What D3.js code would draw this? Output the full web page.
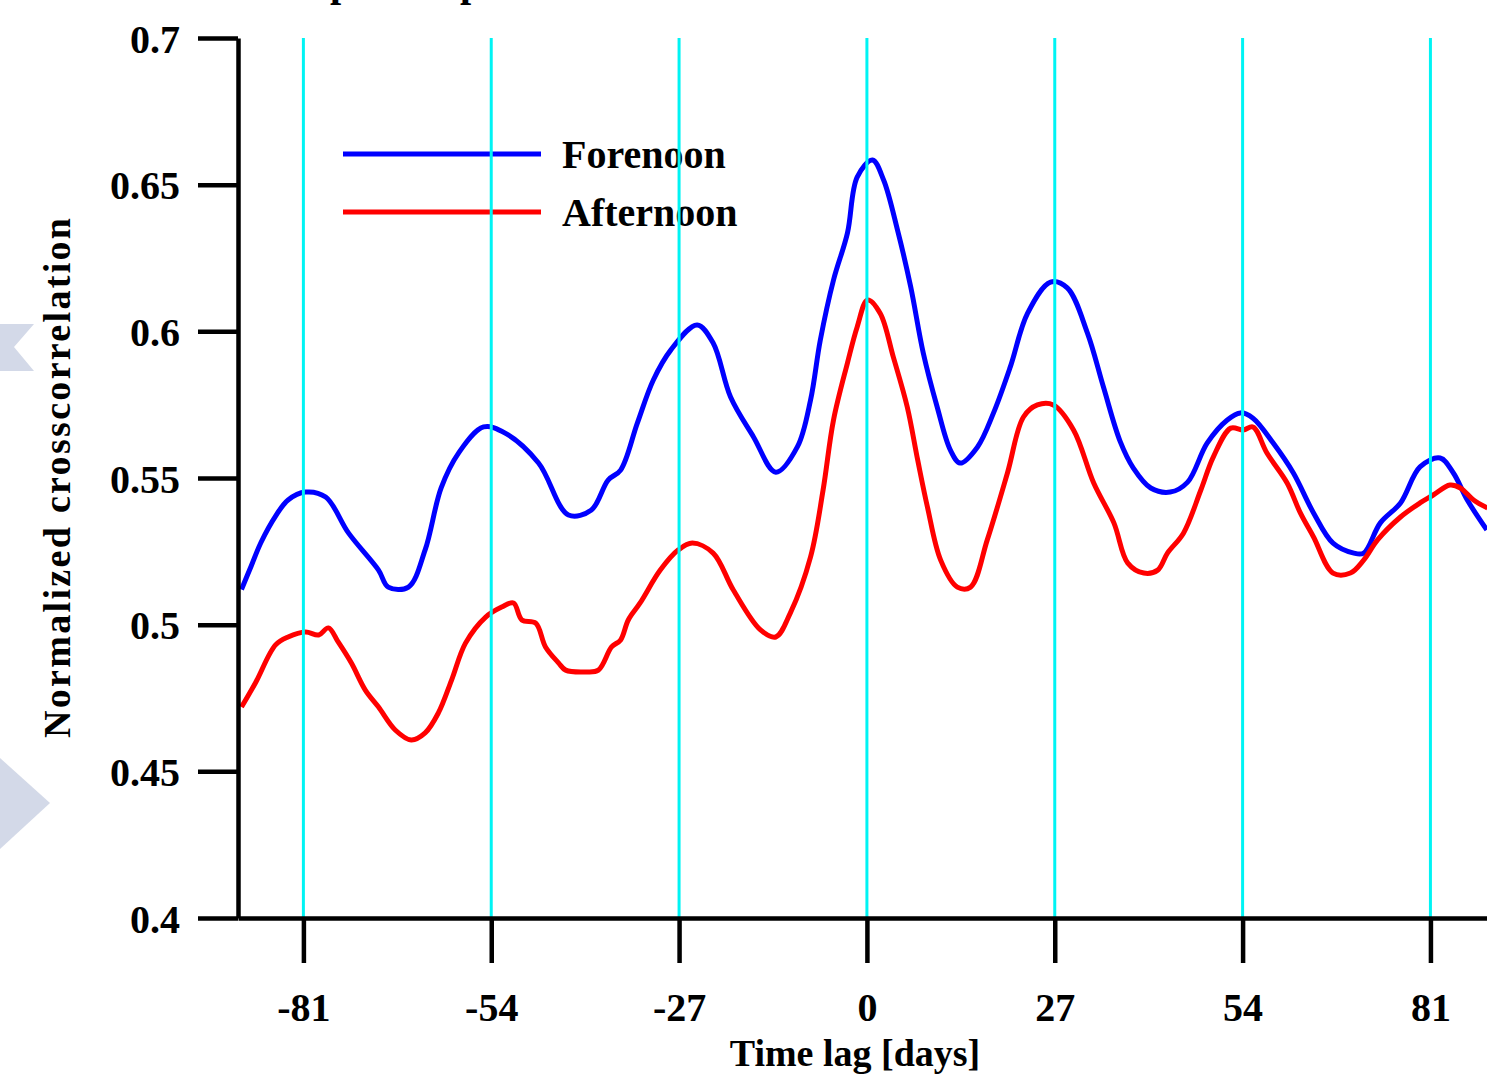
<!DOCTYPE html>
<html>
<head>
<meta charset="utf-8">
<script src="https://d3js.org/d3.v7.min.js"></script>
<style>
  body { margin: 0; background: #fff; }
  svg { display: block; }
</style>
</head>
<body>
<svg id="vis" width="1487" height="1074"></svg>

<script>
    // tick values
    var xTicks = [-81, -54, -27, 0, 27, 54, 81]
    var xTickLabels = ["-81", "-54", "-27", "0", "27", "54", "81"]
    var yTicks = [0.4, 0.45, 0.5, 0.55, 0.6, 0.65, 0.7]
    var yTickLabels = ["0.4", "0.45", "0.5", "0.55", "0.6", "0.65", "0.7"]

    var seriesNames = ["Forenoon", "Afternoon"]

    // Forenoon: [lag in days, normalized crosscorrelation]
    var forenoon = [
        [-89.9, 0.512], [-88.5, 0.520], [-87.1, 0.528], [-85.0, 0.537], [-83.2, 0.5425],
        [-80.7, 0.5452], [-77.8, 0.5435], [-74.5, 0.5312], [-70.2, 0.5186], [-68.8, 0.5128],
        [-65.9, 0.5128], [-63.5, 0.5255], [-61.2, 0.5466], [-58.7, 0.5585], [-55.1, 0.5674],
        [-52.0, 0.5653], [-47.2, 0.5551], [-42.9, 0.5374], [-39.6, 0.5391], [-37.2, 0.5493],
        [-35.4, 0.5527], [-33.0, 0.5687], [-30.7, 0.5834], [-28.2, 0.5936], [-24.4, 0.6022],
        [-22.1, 0.596], [-19.6, 0.5776], [-16.3, 0.564], [-13.1, 0.552], [-10.0, 0.5606],
        [-8.1, 0.5766], [-6.7, 0.597], [-4.8, 0.6175], [-2.8, 0.6335], [-1.4, 0.6526],
        [0.8, 0.6584], [2.4, 0.6516], [4.4, 0.6345], [6.3, 0.6151], [8.1, 0.5926],
        [10.1, 0.5742], [12.0, 0.5595], [13.4, 0.5551], [15.9, 0.5606], [18.2, 0.5722],
        [20.6, 0.5878], [23.1, 0.6062], [26.4, 0.6168], [28.8, 0.6148], [31.7, 0.5994],
        [34.0, 0.581], [36.4, 0.5625], [38.3, 0.5534], [40.8, 0.5466], [43.6, 0.5452],
        [46.1, 0.5486], [48.9, 0.5619], [51.8, 0.5698], [53.7, 0.5722], [55.5, 0.5704],
        [58.4, 0.5619], [61.3, 0.5517], [64.2, 0.5381], [67.0, 0.5278], [70.0, 0.5244],
        [71.4, 0.5244], [73.8, 0.5347], [76.7, 0.5415], [79.5, 0.5538], [82.4, 0.5568],
        [84.3, 0.5517], [86.3, 0.5425], [89.1, 0.5323]
    ]

    // Afternoon
    var afternoon = [
        [-89.9, 0.4719], [-87.9, 0.4801], [-85.0, 0.4931], [-83.2, 0.4958], [-80.7, 0.4975],
        [-78.8, 0.4965], [-77.4, 0.4989], [-76.0, 0.4941], [-74.1, 0.4869], [-72.1, 0.4777],
        [-70.2, 0.4719], [-67.8, 0.4641], [-65.5, 0.4607], [-63.5, 0.4631], [-61.6, 0.4699],
        [-59.7, 0.4811], [-57.7, 0.4937], [-54.8, 0.5026], [-52.5, 0.506], [-50.8, 0.5074],
        [-49.6, 0.5016], [-47.6, 0.5005], [-46.2, 0.4924], [-44.3, 0.4869], [-43.3, 0.4845],
        [-40.5, 0.4839], [-38.6, 0.4845], [-36.7, 0.4924], [-35.4, 0.4948], [-34.3, 0.5016],
        [-32.6, 0.5074], [-29.7, 0.5186], [-27.1, 0.5255], [-25.1, 0.5278], [-22.1, 0.5244],
        [-19.2, 0.5118], [-15.3, 0.4982], [-13.1, 0.4958], [-11.0, 0.504], [-8.1, 0.5231],
        [-6.3, 0.5459], [-4.8, 0.5698], [-2.8, 0.5892], [-1.4, 0.6015], [0.1, 0.6107],
        [1.9, 0.6062], [3.8, 0.5912], [5.8, 0.5742], [7.3, 0.5561], [8.7, 0.5401],
        [10.6, 0.522], [13.0, 0.5128], [14.9, 0.5128], [17.3, 0.5289], [20.2, 0.5517],
        [22.5, 0.5708], [24.5, 0.5749], [26.8, 0.5749], [29.7, 0.5664], [32.6, 0.5483],
        [35.5, 0.5347], [37.5, 0.521], [39.8, 0.5176], [41.8, 0.5186], [43.2, 0.5244],
        [45.5, 0.5312], [48.0, 0.5459], [49.8, 0.5572], [52.3, 0.567], [54.1, 0.5664],
        [55.5, 0.5674], [57.5, 0.5585], [60.4, 0.5483], [62.3, 0.5381], [64.2, 0.5299],
        [67.0, 0.5176], [69.5, 0.5176], [71.4, 0.522], [73.4, 0.5289], [76.7, 0.5367],
        [79.5, 0.5415], [81.4, 0.5442], [83.8, 0.5476], [85.3, 0.5466], [87.2, 0.5425],
        [89.2, 0.5398]
    ]

    var font = "'Liberation Serif', 'Times New Roman', serif"
    var svg = d3.select("#vis")

    // light slide decorations on the left edge
    svg.append("polygon")
        .attr("points", "0,324 34,324 14,347 34,371 0,371")
        .attr("fill", "#d3d9e8")
    svg.append("polygon")
        .attr("points", "0,758 50,803 0,849")
        .attr("fill", "#d3d9e8")

    // bits of the cut-off title above the plot
    svg.append("text")
        .attr("x", 330).attr("y", -4)
        .style("font-family", font).style("font-weight", "bold").style("font-size", "40px")
        .text("p")
    svg.append("text")
        .attr("x", 460).attr("y", -4)
        .style("font-family", font).style("font-weight", "bold").style("font-size", "40px")
        .text("p")

    var x = d3.scaleLinear()
        .domain([-90.4, 90])
        .range([238, 238 + 180.4 * 6.957])
    var y = d3.scaleLinear()
        .domain([0.4, 0.7])
        .range([918, 38])

    // curves
    var line = d3.line()
        .x(function(d) { return x(d[0]) })
        .y(function(d) { return y(d[1]) })
        .curve(d3.curveCatmullRom.alpha(0.5))

    svg.append("path")
        .datum(forenoon)
        .attr("d", line)
        .attr("fill", "none")
        .attr("stroke", "#0000ff")
        .attr("stroke-width", 5)

    svg.append("path")
        .datum(afternoon)
        .attr("d", line)
        .attr("fill", "none")
        .attr("stroke", "#ff0000")
        .attr("stroke-width", 5)

    // legend
    var legendColors = ["#0000ff", "#ff0000"]
    var legend = svg.append("g")
    seriesNames.forEach(function(name, i) {
        legend.append("line")
            .attr("x1", 343).attr("x2", 541)
            .attr("y1", 154 + i * 58).attr("y2", 154 + i * 58)
            .attr("stroke", legendColors[i])
            .attr("stroke-width", 5)
        legend.append("text")
            .attr("x", 562)
            .attr("y", 168 + i * 58)
            .style("font-family", font)
            .style("font-weight", "bold")
            .style("font-size", "40px")
            .text(name)
    })

    // cyan grid lines at the x ticks (drawn on top of the curves)
    svg.append("g")
        .selectAll("line")
        .data(xTicks)
        .enter().append("line")
        .attr("x1", function(d) { return x(d) })
        .attr("x2", function(d) { return x(d) })
        .attr("y1", y(0.7))
        .attr("y2", y(0.4))
        .attr("stroke", "#00f4f4")
        .attr("stroke-width", 3)

    // Y axis
    var yAxis = svg.append("g")
        .attr("transform", "translate(238,0)")
        .call(d3.axisLeft(y).tickValues(yTicks).tickSize(40).tickSizeOuter(0)
            .tickFormat(function(d, i) { return yTickLabels[i] }))
    yAxis.selectAll("path, line").attr("stroke", "#000").attr("stroke-width", 4.5)
    yAxis.selectAll("text")
        .attr("x", -58)
        .attr("dy", "0.35em")
        .attr("fill", "#000")
        .style("font-family", font)
        .style("font-weight", "bold")
        .style("font-size", "40px")

    // X axis
    var xAxis = svg.append("g")
        .attr("transform", "translate(0,918)")
        .call(d3.axisBottom(x).tickValues(xTicks).tickSize(45).tickSizeOuter(0)
            .tickFormat(function(d, i) { return xTickLabels[i] }))
    xAxis.selectAll("path, line").attr("stroke", "#000").attr("stroke-width", 4.5)
    xAxis.selectAll("text")
        .attr("y", 103)
        .attr("dy", 0)
        .attr("fill", "#000")
        .style("font-family", font)
        .style("font-weight", "bold")
        .style("font-size", "40px")

    // Axis labels
    svg.append("text")
        .attr("x", 855)
        .attr("y", 1066)
        .attr("text-anchor", "middle")
        .style("font-family", font)
        .style("font-weight", "bold")
        .style("font-size", "38px")
        .text("Time lag [days]")

    svg.append("text")
        .attr("transform", "translate(70,478) rotate(-90)")
        .attr("text-anchor", "middle")
        .attr("textLength", 520)
        .attr("lengthAdjust", "spacing")
        .style("font-family", font)
        .style("font-weight", "bold")
        .style("font-size", "38px")
        .text("Normalized crosscorrelation")
</script>
</body>
</html>
